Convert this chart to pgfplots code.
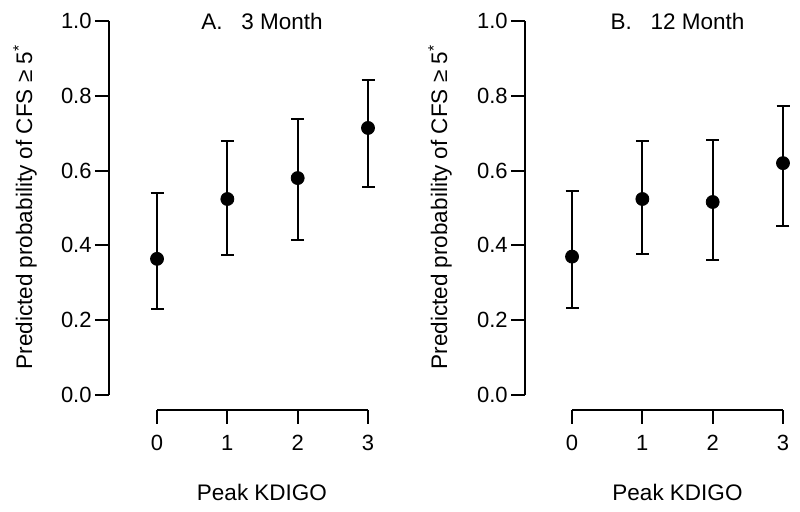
\documentclass[border=0pt]{standalone}
\usepackage{pgfplots}
\pgfplotsset{compat=1.18}
\usepackage{pgfplotstable}
\usepackage{fontspec}
\setmainfont{Liberation Sans}

\pgfplotstableread{
x y hi lo
0 0.364 0.539 0.230
1 0.524 0.680 0.373
2 0.580 0.738 0.414
3 0.714 0.843 0.556
}\dataA
\pgfplotstableread{
x y hi lo
0 0.370 0.546 0.233
1 0.524 0.678 0.378
2 0.516 0.682 0.360
3 0.620 0.773 0.452
}\dataB

\pgfplotsset{
  base/.style={
    scale only axis, clip=false,
    axis line style={-, line width=1pt, black},
    tick style={line width=1pt, black},
    tick align=outside, major tick length=7pt,
    /pgf/number format/assume math mode=true,
    ticklabel style={font=\fontsize{11}{13}\selectfont},
  },
  yax/.style={base,
    axis y line*=left, axis x line=none,
    ymin=0, ymax=1, height=187pt,
    ytick={0,0.2,...,1.0},
    yticklabel style={/pgf/number format/fixed, /pgf/number format/fixed zerofill, /pgf/number format/precision=1, inner sep=1.5pt},
  },
  xax/.style={base,
    axis x line*=bottom, axis y line=none,
    xmin=0, xmax=3, width=105.5pt, height=10pt, ymin=0, ymax=1,
    xtick={0,1,2,3},
    x tick label style={yshift=-1.5pt},
  },
  pts/.style={black, only marks, mark=*, mark size=3.25pt, mark options={fill=black, draw=black},
    error bars/.cd, y dir=both, y explicit,
    error bar style={line width=1pt, black},
    error mark options={rotate=90, mark size=3.25pt, line width=1pt, black}},
}

\begin{document}
\begin{tikzpicture}
\useasboundingbox (0,0) rectangle (400pt,256pt);
\fontsize{11.25}{13}\selectfont
% Panel A
\begin{axis}[yax, at={(54.5pt,58.5pt)}, anchor=south west, xmin=-0.683, xmax=3, width=129.5pt]
\addplot[pts] table[x=x, y=y, y error plus expr=\thisrow{hi}-\thisrow{y}, y error minus expr=\thisrow{y}-\thisrow{lo}] {\dataA};
\end{axis}
\begin{axis}[xax, at={(78.5pt,51pt)}, anchor=south west]
\end{axis}
\node[anchor=base] at (131pt,241pt) {A.\ \ \ 3 Month};
\node[anchor=base] at (131pt,5.5pt) {Peak KDIGO};
\node[anchor=base, rotate=90] at (16pt,152.5pt) {Predicted probability of CFS ≥ 5\textsuperscript{*}};
% Panel B
\begin{axis}[yax, at={(262.5pt,58.5pt)}, anchor=south west, xmin=-0.669, xmax=3, width=129pt]
\addplot[pts] table[x=x, y=y, y error plus expr=\thisrow{hi}-\thisrow{y}, y error minus expr=\thisrow{y}-\thisrow{lo}] {\dataB};
\end{axis}
\begin{axis}[xax, at={(286pt,51pt)}, anchor=south west]
\end{axis}
\node[anchor=base] at (338.75pt,241pt) {B.\ \ \ 12 Month};
\node[anchor=base] at (338.75pt,5.5pt) {Peak KDIGO};
\node[anchor=base, rotate=90] at (223.5pt,152.5pt) {Predicted probability of CFS ≥ 5\textsuperscript{*}};
\end{tikzpicture}
\end{document}
